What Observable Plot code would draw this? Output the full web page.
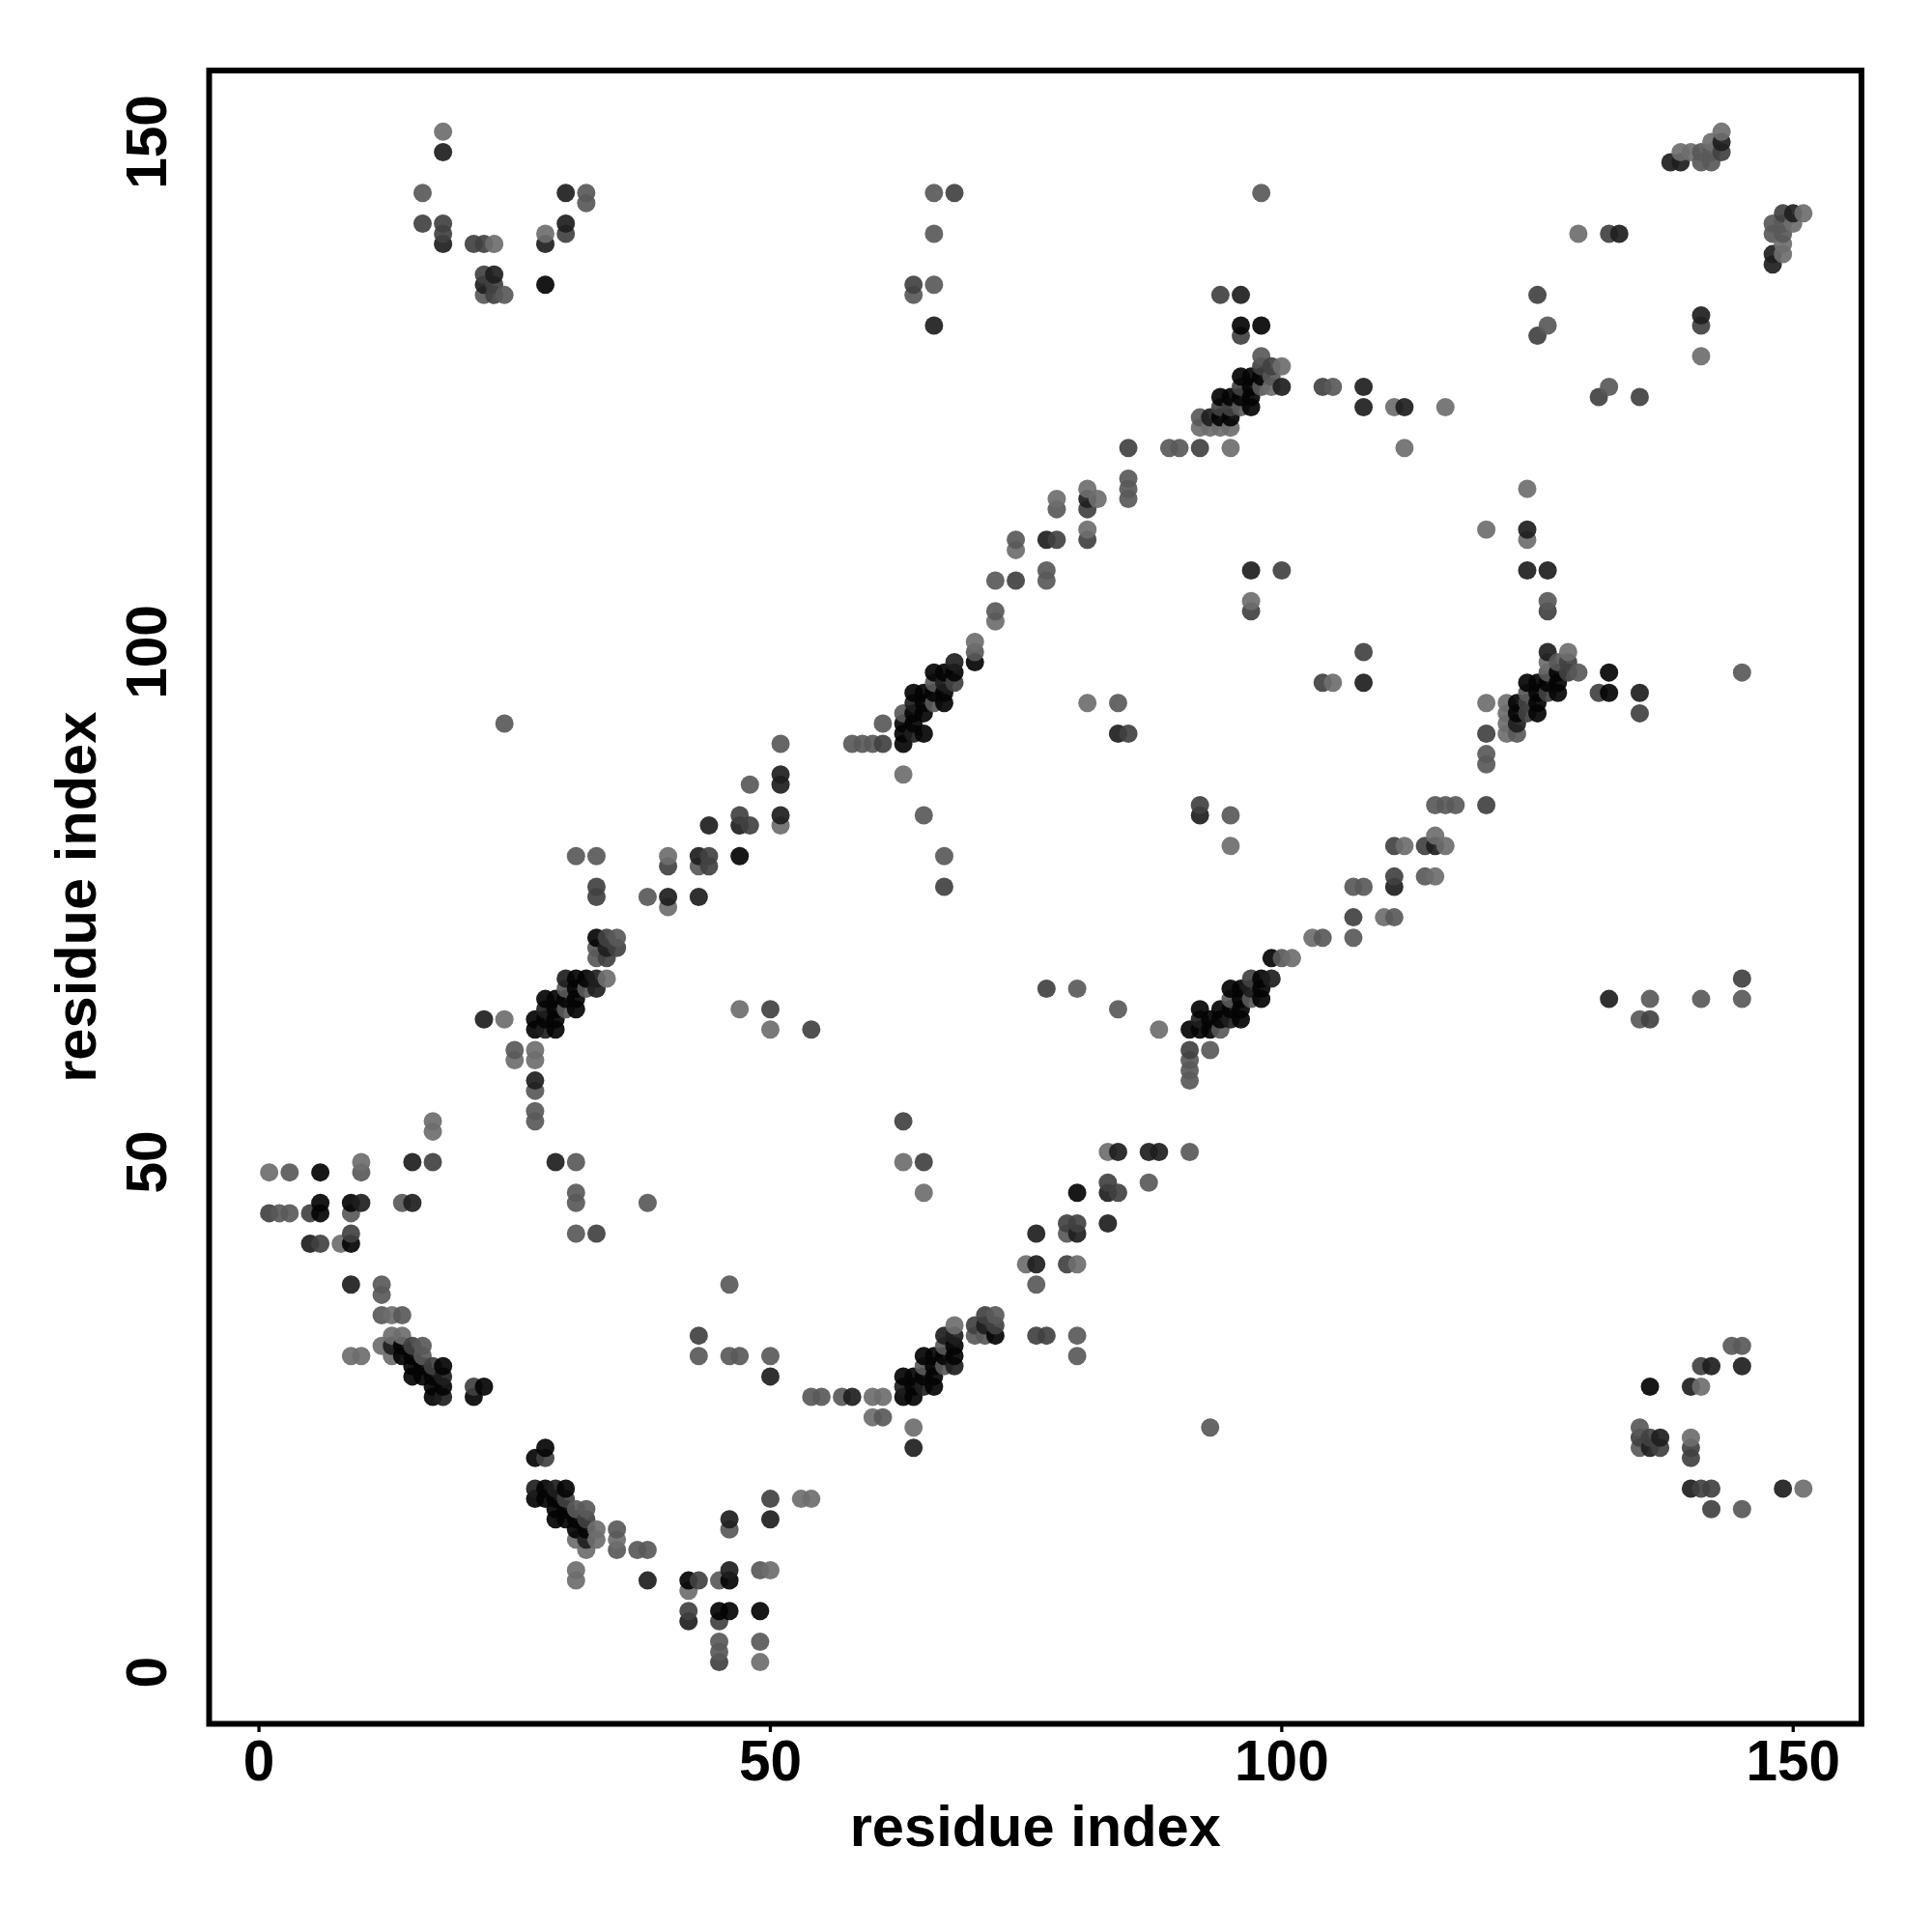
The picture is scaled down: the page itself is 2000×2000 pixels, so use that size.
<!DOCTYPE html>
<html><head><meta charset="utf-8">
<style>html,body{margin:0;padding:0;background:#fff}svg{display:block}</style>
<script src="https://cdn.jsdelivr.net/npm/d3@7"></script>
<script src="https://cdn.jsdelivr.net/npm/@observablehq/plot@0.6"></script>
</head><body><div id="chart"></div>
<script>
// Contacts [residue a, residue b], a > b, grouped by how dark the dot is. The map is symmetric.
const lightContacts=[[33,13],[33,14],[32,12],[31,9],[31,10],[31,13],[35,13],[60,27],[61,27],[60,25],[64,24],[53,17],[54,17],[50,10],[42,8],[49,1],[68,34],[141,28],[151,18],[75,40],[65,47],[63,50],[88,63],[110,74],[103,72],[101,70],[83,51],[80,40],[115,78],[116,81],[112,81],[115,82],[105,97],[95,81],[120,112],[124,111],[128,100],[126,99],[120,95],[122,95],[122,94],[122,93],[122,92],[124,116],[151,143],[150,142],[149,139],[149,140],[141,129],[140,23]];
const mediumContacts=[[35,12],[35,14],[32,16],[31,16],[38,12],[37,12],[43,31],[46,31],[47,31],[50,31],[54,27],[55,27],[57,27],[61,25],[46,14],[49,10],[45,9],[45,3],[49,3],[45,2],[65,30],[67,30],[67,32],[70,33],[71,33],[72,35],[80,33],[80,31],[93,24],[144,32],[145,32],[135,24],[135,22],[145,16],[76,38],[46,38],[111,74],[104,72],[107,72],[100,70],[95,66],[97,66],[94,63],[93,61],[91,60],[91,59],[91,58],[84,65],[80,67],[91,51],[87,48],[79,43],[136,66],[141,66],[145,66],[135,64],[114,78],[117,85],[116,85],[115,85],[108,77],[107,77],[95,84],[126,105],[127,99],[129,98],[126,98],[124,96],[123,92],[120,90],[120,89],[145,98],[149,141],[149,142],[148,141],[148,142],[132,126]];
const midDarkContacts=[[32,15],[30,17],[28,21],[43,33],[50,17],[43,9],[42,6],[45,5],[45,1],[70,34],[72,34],[71,35],[76,33],[77,33],[141,30],[135,23],[136,23],[137,22],[140,22],[140,21],[141,18],[142,18],[142,16],[65,50],[63,54],[107,74],[97,68],[91,61],[77,67],[83,48],[84,47],[79,44],[80,44],[79,40],[145,68],[136,64],[114,81],[111,81],[111,78],[108,100],[104,97],[92,85],[126,104],[128,99],[128,98],[131,96],[135,94],[126,96],[124,95],[124,94],[120,92],[120,85],[149,143],[141,132],[135,125],[131,125]];
const darkContacts=[[32,13],[29,18],[27,18],[38,9],[50,29],[58,27],[64,22],[46,15],[50,15],[46,10],[42,5],[63,28],[65,28],[68,30],[67,33],[68,33],[71,34],[142,30],[145,30],[140,28],[137,23],[136,22],[140,18],[149,18],[76,43],[76,40],[99,68],[97,67],[92,64],[95,64],[84,51],[87,51],[88,51],[83,47],[83,44],[80,43],[132,66],[115,81],[111,77],[108,97],[92,84],[124,112],[124,108],[126,108],[126,100],[135,96],[123,93],[150,143],[148,138],[148,139],[141,133]];
const blackContacts=[[32,14],[31,14],[31,15],[30,15],[30,16],[30,18],[29,15],[29,16],[29,17],[28,17],[28,18],[28,22],[27,17],[27,21],[42,9],[46,9],[45,6],[46,6],[49,6],[63,27],[64,27],[64,28],[66,28],[63,29],[64,29],[65,29],[66,29],[66,30],[65,31],[66,31],[67,31],[68,31],[68,32],[72,33],[136,28],[99,70],[98,68],[95,67],[96,67],[98,67],[96,66],[98,66],[92,65],[94,65],[95,65],[96,65],[93,64],[94,64],[96,64],[91,63],[92,63],[93,63],[80,47],[127,98],[132,98],[132,96],[124,97],[125,97],[126,97],[127,97],[125,96],[127,96],[123,95],[125,95],[123,94],[125,94]];
const greyLevels=[110,89,65,30,4];
const contactGroups=[lightContacts,mediumContacts,midDarkContacts,darkContacts,blackContacts];
const tickValues=[0,50,100,150];
const axisTitle="residue index";

const contacts=contactGroups.flatMap((group,k)=>group.flatMap(([a,b])=>[
  {x:a,y:b,shade:greyLevels[k]},{x:b,y:a,shade:greyLevels[k]}
])).sort((p,q)=>d3.ascending(p.x,q.x)||d3.ascending(p.y,q.y));

const family="'Liberation Sans',Arial,sans-serif";
const tickFont={fontFamily:family,fontSize:58.5,fontWeight:"bold"};
const titleFont={fontFamily:family,fontSize:59.6,fontWeight:"bold"};
const chart=Plot.plot({
  width:2000,height:2000,
  marginLeft:216,marginRight:73.5,marginTop:72.5,marginBottom:216,
  style:{background:"#fff",color:"#000",overflow:"visible"},
  x:{domain:[-4.87,156.68]},
  y:{domain:[-5.05,157.0]},
  color:{type:"linear",domain:[0,128],range:["#000","#808080"]},
  marks:[
    Plot.dot(contacts,{x:"x",y:"y",r:9.5,fill:"shade",fillOpacity:0.92,stroke:"none"}),
    Plot.frame({stroke:"#000",strokeWidth:6}),
    Plot.axisX({ticks:tickValues,tickSize:9,tickPadding:8,strokeWidth:3.3,label:null,...tickFont}),
    Plot.axisY({ticks:tickValues,tickSize:9,tickPadding:36,strokeWidth:3.3,rotate:-90,textAnchor:"middle",lineAnchor:"bottom",label:null,...tickFont}),
    Plot.axisX({ticks:[],tickSize:0,label:axisTitle,labelArrow:"none",labelAnchor:"center",labelOffset:126,...titleFont}),
    Plot.axisY({ticks:[],tickSize:0,label:axisTitle,labelArrow:"none",labelAnchor:"center",labelOffset:160,...titleFont})
  ]
});
document.getElementById("chart").appendChild(chart);
</script>
</body></html>
